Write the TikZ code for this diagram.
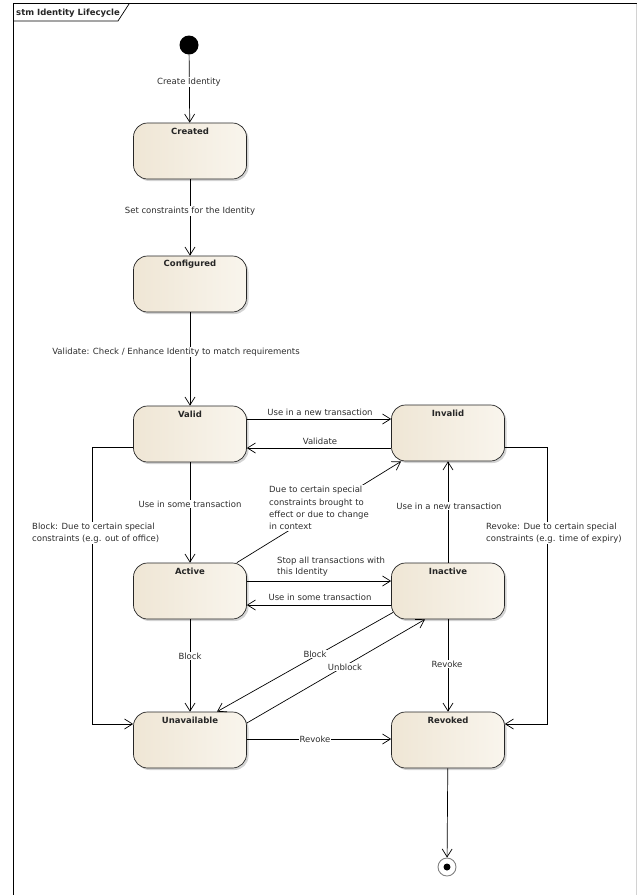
\documentclass[tikz,border=0pt]{standalone}
\usepackage{fontspec}
\setmainfont{DejaVu Sans}
\usetikzlibrary{arrows.meta,shadows}
\definecolor{statefill}{RGB}{239,230,213}
\definecolor{statelight}{RGB}{249,245,237}
\definecolor{txt}{RGB}{45,45,45}
\begin{document}
\begin{tikzpicture}[x=1pt,y=-1pt,
  font=\fontsize{8.5}{11}\selectfont,
  state/.style={draw=black!85, line width=0.7pt, rounded corners=14pt,
    minimum width=113pt, minimum height=56pt, inner sep=0pt,
    left color=statefill, right color=statelight,
    drop shadow={opacity=0.35, shadow xshift=2pt, shadow yshift=-2pt}},
  sname/.style={font=\fontsize{8.5}{11}\selectfont\bfseries, text=black!85, inner sep=0pt},
  trans/.style={draw=black, line width=0.7pt, -{Straight Barb[length=8pt,width=10pt,line width=0.7pt]}},
  elabel/.style={fill=white, inner sep=1pt, text=txt},
  mlabel/.style={fill=white, inner sep=1pt, text=txt, align=left, font=\fontsize{8.5}{12.3}\selectfont}
]
\useasboundingbox (0,0) rectangle (637,895);
% frame
\draw[line width=1pt] (13,895) -- (13,3.5) -- (637,3.5);
\draw[gray!35] (636,3.5) -- (636,895);
\draw[line width=0.7pt] (13,21) -- (118,21) -- (129,4);
\node[sname, anchor=west] (title) at (16,13) {stm Identity Lifecycle};

% pseudo states
\node[circle, fill=black, minimum size=19pt, inner sep=0pt] (init) at (189,45) {};
\node[circle, draw=gray, line width=0.9pt, fill=white, minimum size=18pt, inner sep=0pt] (final) at (447,867) {};
\node[circle, fill=black, minimum size=7pt, inner sep=0pt] (finalc) at (447,867) {};

% states
\node[state] (Created) at (190,151) {};
\node[state] (Configured) at (190,284) {};
\node[state] (Valid) at (190,434) {};
\node[state] (Invalid) at (448,433) {};
\node[state] (Active) at (190,591) {};
\node[state] (Inactive) at (448,591) {};
\node[state] (Unavailable) at (190,740) {};
\node[state] (Revoked) at (448,740) {};
\node[sname] (tCreated) at ([yshift=-9pt]Created.north) {Created};
\node[sname] (tConfigured) at ([yshift=-9pt]Configured.north) {Configured};
\node[sname] (tValid) at ([yshift=-9pt]Valid.north) {Valid};
\node[sname] (tInvalid) at ([yshift=-9pt]Invalid.north) {Invalid};
\node[sname] (tActive) at ([yshift=-9pt]Active.north) {Active};
\node[sname] (tInactive) at ([yshift=-9pt]Inactive.north) {Inactive};
\node[sname] (tUnavailable) at ([yshift=-9pt]Unavailable.north) {Unavailable};
\node[sname] (tRevoked) at ([yshift=-9pt]Revoked.north) {Revoked};

% vertical transitions
\draw[trans] (init) -- (Created);
\node[elabel] (l1) at (189,82) {Create Identity};
\draw[trans] (Created) -- (Configured);
\node[elabel] (l2) at (190,211) {Set constraints for the Identity};
\draw[trans] (Configured) -- (Valid);
\node[elabel] (l3) at (176,352) {Validate: Check / Enhance Identity to match requirements};
\draw[trans] (Valid) -- (Active);
\node[elabel] (l4) at (190,504) {Use in some transaction};
\draw[trans] (Active) -- (Unavailable);
\node[elabel] (l5) at (190,656) {Block};
\draw[trans] (Inactive) -- (Invalid);
\node[elabel] (l6) at (449,506) {Use in a new transaction};
\draw[trans] (Inactive) -- (Revoked);
\node[elabel] (l7) at (447,664) {Revoke};
\draw[trans] (Revoked) -- (final);

% horizontal transitions
\coordinate (yVI) at (0,419);
\draw[trans] (Valid.east |- yVI) -- (Invalid.west |- yVI);
\node[text=txt, inner sep=1pt] (l8) at (320,412) {Use in a new transaction};
\coordinate (yIV) at (0,448);
\draw[trans] (Invalid.west |- yIV) -- (Valid.east |- yIV);
\node[text=txt, inner sep=1pt] (l9) at (320,441) {Validate};
\coordinate (yAI) at (0,581);
\draw[trans] (Active.east |- yAI) -- (Inactive.west |- yAI);
\node[mlabel, anchor=west, fill=none, font=\fontsize{8.5}{11}\selectfont] (l10) at (276,567) {Stop all transactions with\\this Identity};
\coordinate (yIA) at (0,605);
\draw[trans] (Inactive.west |- yIA) -- (Active.east |- yIA);
\node[text=txt, inner sep=1pt] (l11) at (320,597) {Use in some transaction};
\coordinate (yUR) at (0,739);
\draw[trans] (Unavailable.east |- yUR) -- (Revoked.west |- yUR);
\node[elabel] (l12) at (315,739) {Revoke};

% orthogonal transitions
\coordinate (blk) at (92,447);
\coordinate (blk2) at (92,724);
\draw[trans] (Valid.west |- blk) -- (blk) -- (blk2) -- (Unavailable.west |- blk2);
\node[mlabel, anchor=west] (l13) at (31,533) {Block: Due to certain special\\constraints (e.g. out of office)};
\coordinate (rvk) at (547,447);
\coordinate (rvk2) at (547,724);
\draw[trans] (Invalid.east |- rvk) -- (rvk) -- (rvk2) -- (Revoked.east |- rvk2);
\node[mlabel, anchor=west] (l14) at (485,533) {Revoke: Due to certain special\\constraints (e.g. time of expiry)};

% diagonal transitions
\draw[trans] ([xshift=-10pt]Active.north east) -- ([xshift=10pt]Invalid.south west);
\node[mlabel, anchor=west] (l15) at (268,508) {Due to certain special\\constraints brought to\\effect or due to change\\in context};
\draw[trans] ([xshift=2pt,yshift=7pt]Inactive.south west) -- ([xshift=27pt]Unavailable.north);
\node[elabel] (l16) at (315,654) {Block};
\draw[trans] ([yshift=17pt]Unavailable.east) -- ([xshift=-23pt]Inactive.south);
\node[elabel] (l17) at (345,667) {Unblock};
\end{tikzpicture}
\end{document}
